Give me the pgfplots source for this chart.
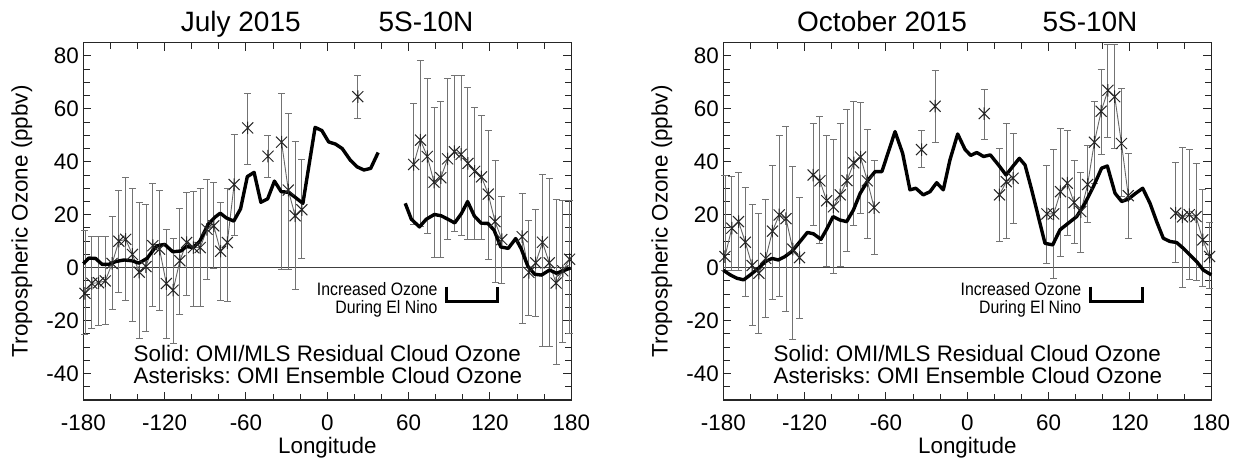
\documentclass[border=0pt]{standalone}
\usepackage{fontspec}
\setmainfont{Liberation Sans}
\usepackage{graphicx}
\usepackage{pgfplots}
\pgfplotsset{compat=1.18}
\frenchspacing

\newcommand\lab{\fontsize{11.2}{13.4}\selectfont}
\newcommand\ttl{\fontsize{14}{16.8}\selectfont}
\newcommand\ann{\fontsize{9}{10.8}\selectfont}

% asterisk drawn as a diagonal cross with a vertical stroke
\pgfdeclareplotmark{xstar}{%
  \pgfpathmoveto{\pgfqpoint{-.707\pgfplotmarksize}{-.707\pgfplotmarksize}}%
  \pgfpathlineto{\pgfqpoint{.707\pgfplotmarksize}{.707\pgfplotmarksize}}%
  \pgfpathmoveto{\pgfqpoint{-.707\pgfplotmarksize}{.707\pgfplotmarksize}}%
  \pgfpathlineto{\pgfqpoint{.707\pgfplotmarksize}{-.707\pgfplotmarksize}}%
  \pgfpathmoveto{\pgfqpoint{0pt}{-.8\pgfplotmarksize}}%
  \pgfpathlineto{\pgfqpoint{0pt}{.8\pgfplotmarksize}}%
  \pgfusepathqstroke}

\pgfplotsset{
  ozone/.style={
    scale only axis, width=244pt, height=178.65pt,
    xmin=-180, xmax=180, ymin=-50, ymax=85,
    clip=false,
    axis line style={black!85, line width=0.55pt},
    tick align=inside, xtick pos=both, ytick pos=both,
    major tick length=4pt, minor tick length=3.2pt,
    tick style={black!85, line width=0.5pt},
    xtick={-180,-120,-60,0,60,120,180},
    xticklabels={-180,-120,-60,0,60,120,180},
    minor xtick={-160,-140,-100,-80,-40,-20,20,40,80,100,140,160},
    ytick={-40,-20,0,20,40,60,80},
    yticklabels={-40,-20,0,20,40,60,80},
    minor ytick={-45,-35,-30,-25,-15,-10,-5,5,10,15,25,30,35,45,50,55,65,70,75},
    xticklabel style={font=\lab, yshift=-3.75pt},
    yticklabel style={font=\lab, xshift=1.25pt},
  },
  % OMI ensemble cloud ozone: asterisks joined by a thin line, with error bars
  ens/.style={
    black!60, line width=0.45pt,
    mark=xstar, mark size=3.9pt,
    mark options={black!85, line width=0.5pt, solid},
    error bars/.cd, y dir=both, y explicit,
    error bar style={black!55, line width=0.45pt},
    error mark options={black!55, line width=0.45pt, mark size=1.75pt, rotate=90},
  },
  /pgfplots/table/enstab/.style={
    x=lon, y=val,
    y error plus expr=\thisrow{hi}-\thisrow{val},
    y error minus expr=\thisrow{val}-\thisrow{lo},
  },
  % OMI/MLS residual cloud ozone
  rco/.style={black, line width=1.7pt, mark=none, line join=round},
  zero/.style={black!75, line width=0.5pt, mark=none},
  brk/.style={black, line width=1.5pt, mark=none, line join=miter},
}

\begin{document}
\begin{tikzpicture}
\useasboundingbox (0,0) rectangle (619.5pt,230.5pt);

% ---------------- July 2015 ----------------
\begin{axis}[ozone, at={(41.65pt,30.5pt)}, anchor=south west]
\addplot[zero] coordinates {(-180,0) (180,0)};

\addplot[ens] table[enstab] {
lon val hi lo
-178.75 -9.7 14.2 -25.4
-173.75 -5.9 11.7 -22.9
-168.75 -5.7 11.7 -22.0
-163.75 -5.0 11.7 -21.6
-158.75 1.6 19.4 -15.7
-153.75 10.0 29.2 -9.4
-148.75 10.7 33.9 -12.2
-143.75 5.0 29.8 -20.2
-138.75 -1.7 24.8 -26.7
-133.75 0.4 24.0 -24.0
-128.75 8.3 32.0 -14.7
-123.75 7.0 29.1 -16.3
-118.75 -6.0 14.5 -26.7
-113.75 -8.5 11.2 -28.6
-108.75 2.6 22.2 -17.6
-103.75 9.5 28.5 -10.6
-98.75 7.6 28.7 -14.6
-93.75 7.6 29.9 -14.7
-88.75 14.5 33.2 -4.3
-83.75 15.8 32.3 -0.4
-78.75 6.2 24.6 -12.3
-73.75 9.5 30.0 -12.8
-68.75 31.4 50.3 12.0
};
\addplot[ens] table[enstab] {
lon val hi lo
-58.75 52.8 66.0 39.0
};
\addplot[ens] table[enstab] {
lon val hi lo
-43.75 42.1 50.0 34.0
};
\addplot[ens] table[enstab] {
lon val hi lo
-33.75 47.4 66.0 -0.6
-28.75 29.3 58.2 -0.7
-23.75 19.6 47.8 -8.4
-18.75 21.9 40.8 3.3
};
\addplot[ens] table[enstab] {
lon val hi lo
22.5 64.6 72.7 56.4
};
\addplot[ens] table[enstab] {
lon val hi lo
63.75 39.0 62.0 16.2
68.75 48.2 78.4 15.5
73.75 42.0 71.4 12.9
78.75 32.3 60.4 4.0
83.75 34.0 62.8 4.0
88.75 41.1 71.6 10.6
93.75 43.8 72.7 13.8
98.75 42.8 72.7 12.3
103.75 39.4 68.0 10.6
108.75 36.4 60.4 10.7
113.75 34.3 57.4 10.7
118.75 27.8 52.0 3.1
123.75 17.4 40.4 -5.6
128.75 10.6 26.8 -6.0
};
\addplot[ens] table[enstab] {
lon val hi lo
143.75 11.7 28.0 -21.2
148.75 -1.8 18.0 -17.9
153.75 1.8 22.0 -18.5
158.75 9.6 35.3 -29.8
163.75 1.8 33.7 -29.8
168.75 -5.8 25.8 -36.7
173.75 -1.2 25.5 -28.3
178.75 3.2 25.5 -24.8
};

\addplot[rco] coordinates {
(-180,1.5) (-176,3.6) (-171,3.5) (-166,1.2) (-161,1.3) (-156,2.3)
(-150,2.9) (-144,2.6) (-139,1.7) (-133,3.5) (-126,8.2) (-120,8.8)
(-114,6.0) (-108,6.3) (-104,8.0) (-99,7.6) (-94,10.0) (-88,16.3)
(-83,19.0) (-79,20.6) (-74.5,18.8) (-69,17.6) (-64,22.2) (-59,34.4)
(-54,36.0) (-49,24.7) (-44,26.0) (-39,32.7) (-34,28.7) (-28.5,28.5)
(-23,26.3) (-18,24.3) (-9,53.0) (-4,51.8) (1,47.5) (6,46.7) (11,45.0)
(17,40.6) (22,38.1) (27,36.9) (32,37.5) (37.5,43.5)
};
\addplot[rco] coordinates {
(57.5,24.3) (62,18.3) (68,15.4) (73,18.3) (79,20.1) (84,19.6) (89,18.3)
(94,16.9) (99,20.5) (103.5,25.0) (108.5,19.5) (113.5,16.8) (118.5,16.7)
(123,14.2) (128,7.8) (133.5,7.3) (139,11.0) (143,7.2) (148,0.5)
(153,-2.5) (158,-2.8) (164,-0.9) (169,-2.1) (174,-1.2) (179.5,-0.1)
};

\addplot[brk] coordinates {(88.1,-7.2) (88.1,-12.6) (125.7,-12.6) (125.7,-7.2)};
\node[font=\ann, anchor=base east, inner sep=0pt] at (axis cs:81.6,-10.6) {\scalebox{0.88}[1]{Increased Ozone}};
\node[font=\ann, anchor=base east, inner sep=0pt] at (axis cs:81.6,-17.2) {\scalebox{0.88}[1]{During El Nino}};

\node[font=\lab, anchor=base west, inner sep=0pt] at (axis cs:-143.1,-35.5) {Solid: OMI/MLS Residual Cloud Ozone};
\node[font=\lab, anchor=base west, inner sep=0pt] at (axis cs:-143.1,-43.6) {Asterisks: OMI Ensemble Cloud Ozone};

\node[font=\ttl, anchor=base, inner sep=0pt] at (axis cs:-63.8,89.1) {July 2015};
\node[font=\ttl, anchor=base, inner sep=0pt] at (axis cs:72.8,89.1) {5S-10N};
\node[font=\lab, anchor=base, inner sep=0pt] at (axis cs:0,-70.4) {Longitude};
\node[font=\lab, rotate=90, anchor=center, inner sep=0pt] at (axis cs:-225.4,17.5) {Tropospheric Ozone (ppbv)};
\end{axis}

% ---------------- October 2015 ----------------
\begin{axis}[ozone, at={(361.65pt,30.5pt)}, anchor=south west]
\addplot[zero] coordinates {(-180,0) (180,0)};

\addplot[ens] table[enstab] {
lon val hi lo
-178.75 4.2 35.0 -1.0
-173.75 14.9 34.6 -1.0
-168.75 17.4 35.9 -1.1
-163.75 9.6 30.2 -11.0
-158.75 0.8 24.0 -22.0
-153.75 -2.1 20.3 -24.8
-148.75 3.5 25.9 -19.0
-143.75 13.8 38.8 -12.0
-138.75 19.9 50.1 -11.0
-133.75 18.5 53.3 -16.4
-128.75 7.0 38.4 -27.1
-123.75 3.8 26.6 -19.1
};
\addplot[ens] table[enstab] {
lon val hi lo
-113.75 35.0 54.3 16.1
-108.75 32.8 57.3 9.2
-103.75 25.3 50.1 0.6
-98.75 23.0 48.5 -2.1
-93.75 27.5 54.5 0.6
-88.75 32.9 59.8 6.1
-83.75 39.6 62.7 16.1
-78.75 41.8 62.5 20.5
-73.75 32.8 52.3 11.1
-68.75 22.7 40.5 5.0
};
\addplot[ens] table[enstab] {
lon val hi lo
-33.75 44.6 52.0 37.8
};
\addplot[ens] table[enstab] {
lon val hi lo
-23.75 61.0 74.5 47.3
};
\addplot[ens] table[enstab] {
lon val hi lo
12.5 58.2 67.4 48.3
};
\addplot[ens] table[enstab] {
lon val hi lo
23.75 27.5 45.1 9.8
28.75 32.5 54.3 11.1
33.75 33.8 50.8 16.8
};
\addplot[ens] table[enstab] {
lon val hi lo
58.75 20.3 38.8 1.7
63.75 20.3 44.5 -4.0
68.75 28.7 52.7 4.2
73.75 31.9 51.8 12.0
78.75 24.6 40.5 9.2
83.75 21.2 36.0 5.7
88.75 31.4 46.0 17.0
93.75 47.4 62.7 32.0
98.75 59.1 75.0 42.6
103.75 67.0 84.5 49.3
108.75 64.6 84.2 45.1
113.75 46.9 67.8 27.0
118.75 27.2 43.2 11.1
};
\addplot[ens] table[enstab] {
lon val hi lo
153.75 20.6 39.7 1.9
158.75 19.2 45.5 -7.5
163.75 20.0 44.7 -4.5
168.75 19.3 39.4 -5.0
173.75 10.5 29.6 -7.2
178.75 4.2 17.0 -8.0
};

\addplot[rco] coordinates {
(-180,-1.0) (-175,-2.7) (-170,-4.0) (-165,-4.6) (-160,-2.7) (-154,-0.2)
(-149,2.3) (-144,3.5) (-139.5,2.9) (-134.5,4.2) (-129.5,6.1) (-123.5,9.8)
(-118,13.3) (-113.5,12.8) (-108,10.7) (-104,14.3) (-99,19.3) (-94,18.0)
(-89,17.4) (-84,21.8) (-79,28.1) (-73,33.2) (-68,36.3) (-63,36.3)
(-53.3,51.4) (-47.7,43.2) (-42.3,29.4) (-38,30.0) (-32.5,27.5) (-27.5,28.7)
(-22.6,32.1) (-17.7,29.4) (-12.8,40.7) (-7.1,50.5) (-1.7,44.7) (2.5,42.4)
(7,43.5) (12,42.0) (17,42.6) (23,38.8) (28.6,35.0) (33.5,38.2) (38.4,41.3)
(42.6,38.8) (47.5,29.4) (52.4,19.3) (57.3,9.2) (63,8.6) (68.4,14.3)
(74.5,16.8) (80.7,19.3) (86.8,24.3) (93,30.6) (99.1,37.6) (103.3,38.4)
(109,28.1) (113.9,25.0) (118.8,25.9) (123.7,27.9) (129.4,30.0) (134.8,24.3)
(139.7,17.4) (144.6,11.1) (149.5,9.9) (154.4,9.5) (159.4,7.3) (164.3,4.8)
(169.2,2.3) (174.1,-0.9) (180,-2.7)
};

\addplot[brk] coordinates {(91,-7.2) (91,-12.6) (129.4,-12.6) (129.4,-7.2)};
\node[font=\ann, anchor=base east, inner sep=0pt] at (axis cs:84.4,-10.6) {\scalebox{0.88}[1]{Increased Ozone}};
\node[font=\ann, anchor=base east, inner sep=0pt] at (axis cs:84.4,-17.2) {\scalebox{0.88}[1]{During El Nino}};

\node[font=\lab, anchor=base west, inner sep=0pt] at (axis cs:-143.1,-35.5) {Solid: OMI/MLS Residual Cloud Ozone};
\node[font=\lab, anchor=base west, inner sep=0pt] at (axis cs:-143.1,-43.6) {Asterisks: OMI Ensemble Cloud Ozone};

\node[font=\ttl, anchor=base, inner sep=0pt] at (axis cs:-62.9,89.1) {October 2015};
\node[font=\ttl, anchor=base, inner sep=0pt] at (axis cs:90.5,89.1) {5S-10N};
\node[font=\lab, anchor=base, inner sep=0pt] at (axis cs:0,-70.4) {Longitude};
\node[font=\lab, rotate=90, anchor=center, inner sep=0pt] at (axis cs:-225.4,17.5) {Tropospheric Ozone (ppbv)};
\end{axis}
\end{tikzpicture}
\end{document}
